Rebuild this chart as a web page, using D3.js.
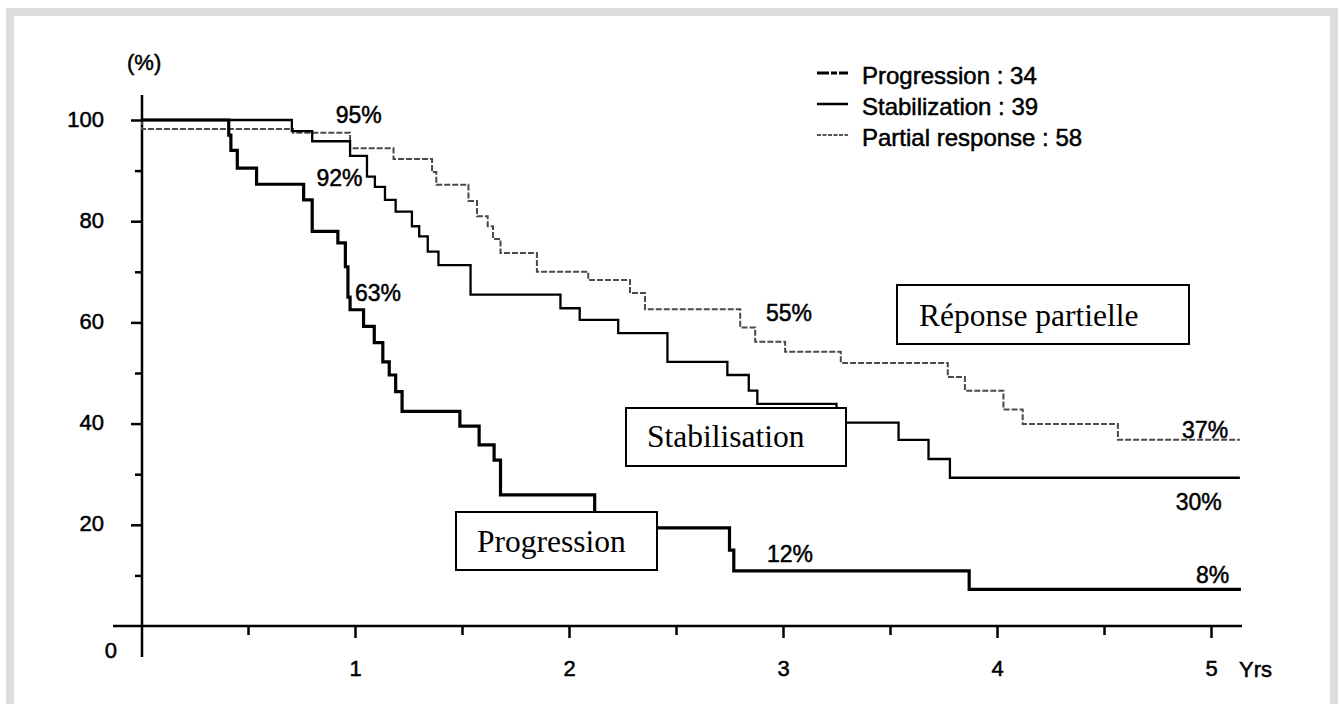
<!DOCTYPE html>
<html><head><meta charset="utf-8">
<script src="https://cdn.jsdelivr.net/npm/d3@7/dist/d3.min.js"></script>
<style>
html,body{margin:0;padding:0;background:#fff;}
svg text{font-family:"Liberation Sans",Arial,Helvetica,sans-serif;}
svg text.sans{stroke:#000;stroke-width:0.5px;}
</style></head>
<body>
<svg id="chart" width="1341" height="704"></svg>
<script>
// ---- data (time in years, survival in %) ----
const seriesNames = ["Progression", "Stabilization", "Partial response"];
const seriesCounts = [34, 39, 58];
const progressionT = [0, 0.41, 0.42, 0.45, 0.54, 0.76, 0.80, 0.92, 0.955, 0.967, 0.977, 1.04, 1.09, 1.13, 1.16, 1.19, 1.22, 1.49, 1.58, 1.65, 1.68, 2.12, 2.75, 2.77, 3.87, 5.14];
const progressionV = [100, 97, 94, 90.5, 87.3, 84.2, 78, 75.7, 71, 65, 62.5, 59.2, 56, 52.2, 49.6, 46.3, 42.4, 39.5, 35.8, 32.8, 25.9, 19.4, 15, 10.9, 7.25, 7.25];
const stabilizationT = [0, 0.705, 0.80, 0.977, 1.056, 1.093, 1.14, 1.19, 1.266, 1.30, 1.34, 1.39, 1.54, 1.96, 2.05, 2.23, 2.46, 2.74, 2.84, 2.88, 3.25, 3.54, 3.68, 3.78, 5.135];
const stabilizationV = [100, 97.8, 95.8, 92.9, 88.8, 86.8, 84.2, 81.9, 79, 77, 74, 71.3, 65.5, 62.8, 60.5, 57.9, 52.2, 49.6, 46.5, 43.9, 40.2, 36.8, 33, 29.3, 29.3];
const partialT = [0, 0.005, 0.71, 0.977, 1.18, 1.36, 1.38, 1.53, 1.57, 1.62, 1.645, 1.68, 1.85, 2.09, 2.285, 2.355, 2.80, 2.87, 3.01, 3.27, 3.77, 3.85, 4.03, 4.12, 4.565, 5.135];
const partialV = [100, 98.2, 97.5, 94.4, 92.3, 89.7, 87.2, 84, 81, 79, 76.5, 73.7, 70, 68.4, 65.8, 62.6, 59, 56.2, 54.2, 52, 49.2, 46.5, 42.8, 39.9, 36.8, 36.8];
const xTickValues = [1, 2, 3, 4, 5];
const xMinorTicks = [0.5, 1.5, 2.5, 3.5, 4.5];
const yTickValues = [20, 40, 60, 80, 100];
const yMinorTicks = [10, 30, 50, 70, 90];
const pctLabels = ["95%", "92%", "63%", "55%", "37%", "30%", "12%", "8%"];
const boxLabels = ["Réponse partielle", "Stabilisation", "Progression"];

// ---- layout ----
const svg = d3.select("#chart");
const x = d3.scaleLinear().domain([0, 5]).range([141, 1211]);
const y = d3.scaleLinear().domain([0, 100]).range([626, 120]);

// frame
svg.append("rect").attr("x", 10).attr("y", 12).attr("width", 1324).attr("height", 700)
  .attr("fill", "#fff").attr("stroke", "#dcdcdc").attr("stroke-width", 8);

// axes lines
svg.append("line").attr("x1", 113).attr("x2", 1242).attr("y1", y(0)).attr("y2", y(0))
  .attr("stroke", "#000").attr("stroke-width", 2.5);
svg.append("line").attr("x1", x(0) + 1).attr("x2", x(0) + 1).attr("y1", 95).attr("y2", 657)
  .attr("stroke", "#000").attr("stroke-width", 2.5);

const fs = 22;
// y axis
const gy = svg.append("g").attr("transform", `translate(${x(0) + 1},0)`)
  .call(d3.axisLeft(y).tickValues(yTickValues).tickSize(11).tickPadding(27));
gy.select(".domain").remove();
gy.selectAll("line").attr("stroke-width", 2.5);
gy.selectAll("text").attr("class", "sans").attr("font-size", fs).attr("dy", "0.28em").attr("font-family", "Liberation Sans, Arial, sans-serif");
const gym = svg.append("g").attr("transform", `translate(${x(0) + 1},0)`)
  .call(d3.axisLeft(y).tickValues(yMinorTicks).tickSize(7).tickFormat(""));
gym.select(".domain").remove();
gym.selectAll("line").attr("stroke-width", 2.5);
svg.append("text").attr("class", "sans").attr("x", 117).attr("y", y(0) + 32).attr("text-anchor", "end")
  .attr("font-size", fs).text("0");
svg.append("text").attr("class", "sans").attr("x", 127).attr("y", 70).attr("font-size", fs).text("(%)");

// x axis
const gx = svg.append("g").attr("transform", `translate(0,${y(0)})`)
  .call(d3.axisBottom(x).tickValues(xTickValues).tickSize(12).tickPadding(22).tickFormat(d3.format("d")));
gx.select(".domain").remove();
gx.selectAll("line").attr("stroke-width", 2.5);
gx.selectAll("text").attr("class", "sans").attr("font-size", fs).attr("font-family", "Liberation Sans, Arial, sans-serif");
const gxm = svg.append("g").attr("transform", `translate(0,${y(0)})`)
  .call(d3.axisBottom(x).tickValues(xMinorTicks).tickSize(9).tickFormat(""));
gxm.select(".domain").remove();
gxm.selectAll("line").attr("stroke-width", 2.5);
svg.append("text").attr("class", "sans").attr("x", x(5) + 28).attr("y", 677).attr("font-size", fs).text("Yrs");

// curves
const line = d3.line().x(d => x(d[0])).y(d => y(d[1])).curve(d3.curveStepAfter);
const series = [
  {T: partialT, V: partialV, stroke: "#4a4a4a", w: 2, dash: "6,2"},
  {T: stabilizationT, V: stabilizationV, stroke: "#000", w: 2.3, dash: null},
  {T: progressionT, V: progressionV, stroke: "#000", w: 3.2, dash: null}
];
series.forEach(s => {
  const pts = s.T.map((t, i) => [t, s.V[i]]);
  svg.append("path").attr("d", line(pts)).attr("fill", "none")
    .attr("stroke", s.stroke).attr("stroke-width", s.w)
    .attr("stroke-dasharray", s.dash);
});

// percentage annotations (positions in data space)
const pctPos = [[0.91, 99.5], [0.82, 86.9], [1.0, 64.3], [2.92, 60.2], [4.865, 37.1], [4.835, 22.9], [2.925, 12.6], [4.93, 8.4]];
pctLabels.forEach((t, i) => {
  svg.append("text").attr("class", "sans").attr("x", x(pctPos[i][0])).attr("y", y(pctPos[i][1]))
    .attr("font-size", 23).text(t);
});

// legend
const legendStyles = [
  {stroke: "#000", w: 3, dash: "12,2,6,2,12"},
  {stroke: "#000", w: 2.5, dash: null},
  {stroke: "#555", w: 2, dash: "4,1.5"}
];
seriesNames.forEach((n, i) => {
  const yy = 73 + i * 31;
  svg.append("line").attr("x1", 817).attr("x2", 848).attr("y1", yy).attr("y2", yy)
    .attr("stroke", legendStyles[i].stroke).attr("stroke-width", legendStyles[i].w)
    .attr("stroke-dasharray", legendStyles[i].dash);
  svg.append("text").attr("class", "sans").attr("x", 862).attr("y", yy + 11).attr("font-size", 24)
    .text(`${n} : ${seriesCounts[i]}`);
});

// boxed French labels
const boxes = [[897, 285, 292, 59, 919, 326], [626, 408, 220, 58, 647, 447], [456, 512, 201, 58, 477, 552]];
boxLabels.forEach((t, i) => {
  const b = boxes[i];
  svg.append("rect").attr("x", b[0]).attr("y", b[1]).attr("width", b[2]).attr("height", b[3])
    .attr("fill", "#fff").attr("stroke", "#000").attr("stroke-width", 2);
  svg.append("text").attr("x", b[4]).attr("y", b[5]).attr("font-size", 31.5)
    .style("font-family", "Liberation Serif, Times New Roman, serif").text(t);
});
</script>
</body></html>
